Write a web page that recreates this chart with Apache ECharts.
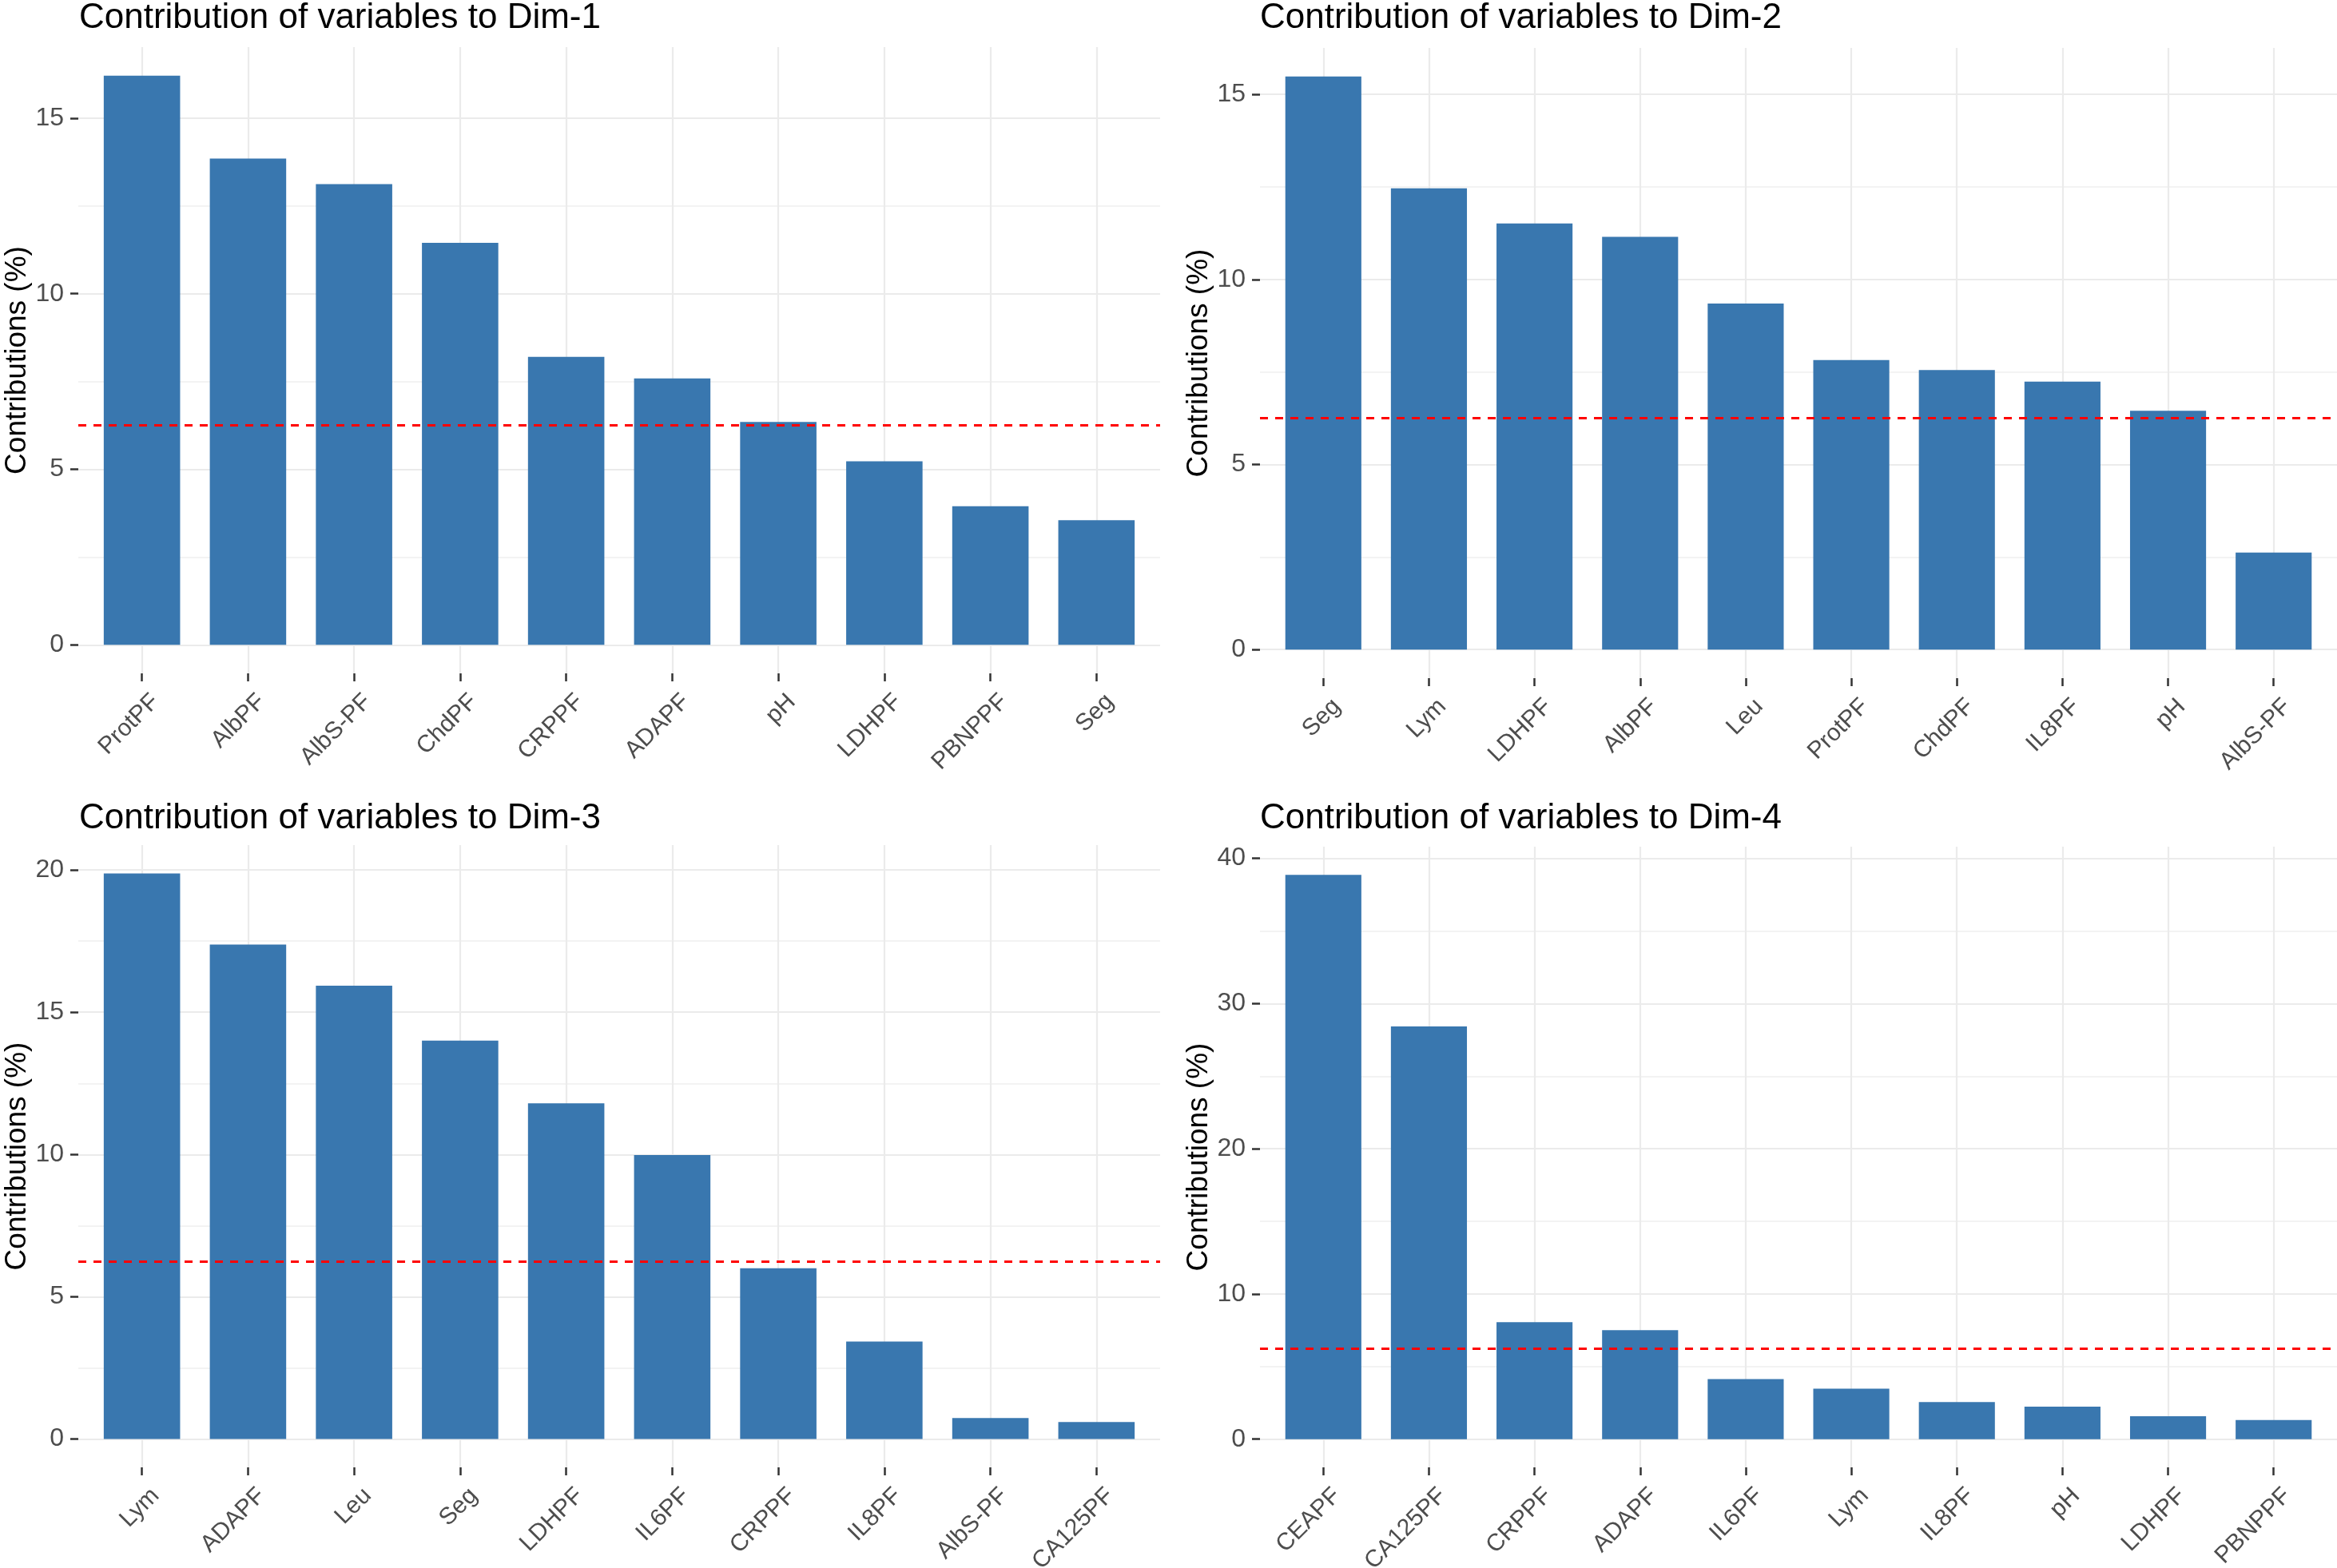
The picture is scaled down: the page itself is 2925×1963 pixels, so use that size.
<!DOCTYPE html>
<html>
<head>
<meta charset="utf-8">
<script src="https://cdn.jsdelivr.net/npm/echarts@6/dist/echarts.min.js"></script>
<style>
html,body{margin:0;padding:0;background:#fff;}
#chart{width:2925px;height:1963px;}
</style>
</head>
<body>
<div id="chart"></div>
<script>
// ---- data ----
const titles = [
  'Contribution of variables to Dim-1',
  'Contribution of variables to Dim-2',
  'Contribution of variables to Dim-3',
  'Contribution of variables to Dim-4'
];
const dim1Cats = ['ProtPF','AlbPF','AlbS-PF','ChdPF','CRPPF','ADAPF','pH','LDHPF','PBNPPF','Seg'];
const dim1Vals = [16.21, 13.85, 13.12, 11.45, 8.2, 7.59, 6.35, 5.23, 3.95, 3.55];
const dim2Cats = ['Seg','Lym','LDHPF','AlbPF','Leu','ProtPF','ChdPF','IL8PF','pH','AlbS-PF'];
const dim2Vals = [15.48, 12.46, 11.51, 11.15, 9.35, 7.82, 7.55, 7.24, 6.45, 2.62];
const dim3Cats = ['Lym','ADAPF','Leu','Seg','LDHPF','IL6PF','CRPPF','IL8PF','AlbS-PF','CA125PF'];
const dim3Vals = [19.88, 17.38, 15.93, 14.0, 11.8, 9.98, 6.0, 3.43, 0.74, 0.6];
const dim4Cats = ['CEAPF','CA125PF','CRPPF','ADAPF','IL6PF','Lym','IL8PF','pH','LDHPF','PBNPPF'];
const dim4Vals = [38.86, 28.43, 8.05, 7.5, 4.13, 3.48, 2.55, 2.24, 1.58, 1.31];
const dim1Ticks = [0, 5, 10, 15];
const dim2Ticks = [0, 5, 10, 15];
const dim3Ticks = [0, 5, 10, 15, 20];
const dim4Ticks = [0, 10, 20, 30, 40];
const dim1Minor = [2.5, 7.5, 12.5];
const dim2Minor = [2.5, 7.5, 12.5];
const dim3Minor = [2.5, 7.5, 12.5, 17.5];
const dim4Minor = [5, 15, 25, 35];
const expectedContrib = 6.25; // 100 / 16 variables
const yTitle = 'Contributions (%)';

// ---- layout / style ----
const FONT = 'Liberation Sans, Arial, sans-serif';
const BAR = '#3977AF';
const GRIDC = '#ebebeb';
const panels = [
  {cats: dim1Cats, vals: dim1Vals, ticks: dim1Ticks, minor: dim1Minor,
   grid: {left: 98, right: 1473, top: 59, bottom: 1120}, title: {left: 99, top: 1}},
  {cats: dim2Cats, vals: dim2Vals, ticks: dim2Ticks, minor: dim2Minor,
   grid: {left: 1577, right: 0, top: 60, bottom: 1114}, title: {left: 1577, top: 1}},
  {cats: dim3Cats, vals: dim3Vals, ticks: dim3Ticks, minor: dim3Minor,
   grid: {left: 98, right: 1473, top: 1058, bottom: 126}, title: {left: 99, top: 1003}},
  {cats: dim4Cats, vals: dim4Vals, ticks: dim4Ticks, minor: dim4Minor,
   grid: {left: 1577, right: 0, top: 1060, bottom: 126}, title: {left: 1577, top: 1003}}
];

const option = {
  backgroundColor: '#ffffff',
  animation: false,
  title: [], grid: [], xAxis: [], yAxis: [], series: []
};

panels.forEach((p, i) => {
  const maxV = Math.max.apply(null, p.vals);
  const n = p.cats.length;
  const idx = p.cats.map((c, k) => k);
  option.title.push({
    text: titles[i], left: p.title.left, top: p.title.top, padding: 0,
    textStyle: {fontFamily: FONT, fontSize: 44, fontWeight: 'normal', color: '#000'}
  });
  option.grid.push(Object.assign({containLabel: false, outerBoundsMode: 'none'}, p.grid));
  option.xAxis.push({
    type: 'value', gridIndex: i, min: -0.6, max: n - 1 + 0.6,
    axisLine: {show: false, onZero: false}, splitLine: {show: false},
    axisTick: {show: true, customValues: idx, length: 10, lineStyle: {color: '#333', width: 2.5}},
    axisLabel: {
      customValues: idx, formatter: v => p.cats[Math.round(v)],
      rotate: 45, margin: 14, verticalAlign: 'top', align: 'right', padding: [9, 0, 0, 0],
      fontFamily: FONT, fontSize: 30, color: '#4d4d4d'
    }
  });
  option.yAxis.push({
    type: 'value', gridIndex: i, min: -0.05 * maxV, max: 1.05 * maxV,
    axisLine: {show: false, onZero: false}, splitLine: {show: false},
    axisTick: {show: true, customValues: p.ticks, length: 10, lineStyle: {color: '#333', width: 2.5}},
    axisLabel: {customValues: p.ticks, margin: 18, fontFamily: FONT, fontSize: 32, color: '#4d4d4d'},
    name: yTitle, nameLocation: 'middle', nameGap: 54,
    nameTextStyle: {fontFamily: FONT, fontSize: 37, color: '#000'}
  });
  // gridlines (under bars)
  const gl = [];
  p.ticks.forEach(t => gl.push({yAxis: t, lineStyle: {color: GRIDC, width: 2.2, type: 'solid'}}));
  p.minor.forEach(t => gl.push({yAxis: t, lineStyle: {color: '#efefef', width: 1.6, type: 'solid'}}));
  idx.forEach(k => gl.push({xAxis: k, lineStyle: {color: GRIDC, width: 2.2, type: 'solid'}}));
  option.series.push({
    type: 'scatter', xAxisIndex: i, yAxisIndex: i, data: [], silent: true, z: 1,
    markLine: {silent: true, z: 1, symbol: ['none', 'none'], label: {show: false}, data: gl}
  });
  option.series.push({
    type: 'bar', xAxisIndex: i, yAxisIndex: i, z: 2,
    data: p.vals.map((v, k) => [k, v]),
    barWidth: '72%',
    itemStyle: {color: BAR},
    markLine: {
      silent: true, z: 5, symbol: ['none', 'none'], label: {show: false},
      lineStyle: {color: '#ff0000', width: 3, type: [10, 9]},
      data: [{yAxis: expectedContrib}]
    }
  });
});

const chart = echarts.init(document.getElementById('chart'), null, {renderer: 'canvas'});
chart.setOption(option);
</script>
</body>
</html>
